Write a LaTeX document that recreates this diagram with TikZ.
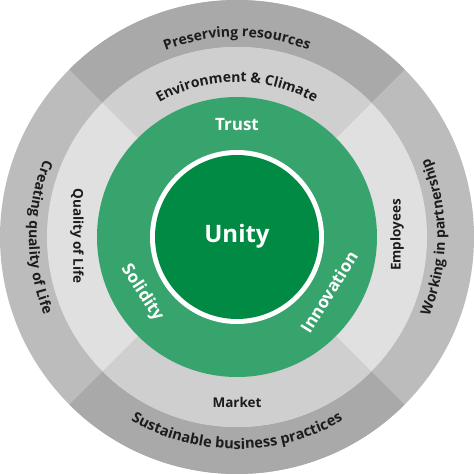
\documentclass[tikz,border=0pt]{standalone}
\usepackage{fontspec}
\setmainfont{Open Sans}
\usetikzlibrary{decorations.text}
\definecolor{outA}{HTML}{A9A9A9}
\definecolor{outB}{HTML}{BCBCBC}
\definecolor{midA}{HTML}{CFCFCF}
\definecolor{midB}{HTML}{E0E0E0}
\definecolor{gring}{HTML}{38A46D}
\definecolor{gcore}{HTML}{008A44}
\definecolor{ink}{HTML}{1C1C1C}
\newcommand{\arcfnt}{\fontsize{14}{16}\selectfont\bfseries}
\newcommand{\arcfntb}{\fontsize{14.6}{16}\selectfont\bfseries}
\begin{document}
\begin{tikzpicture}[x=1pt,y=1pt,
  lbl/.style={font=\fontsize{13.5}{15}\selectfont\bfseries, text=ink, inner sep=0pt},
  glbl/.style={font=\fontsize{17}{19}\selectfont\bfseries, text=white, inner sep=0pt},
  arclbl/.style={decorate, decoration={text along path, text align=center, text color=ink, text={|\arcfnt|#1}}},
  arclblb/.style={decorate, decoration={text along path, text align=center, text color=ink, text={|\arcfntb|#1}}}
]
\useasboundingbox (-237,-237) rectangle (237,237);
% outer ring
\fill[outB] (0,0) circle[radius=237];
\fill[outA] (0,0) -- (45:237) arc[start angle=45, end angle=135, radius=237] -- cycle;
\fill[outA] (0,0) -- (225:237) arc[start angle=225, end angle=315, radius=237] -- cycle;
% middle ring
\fill[midB] (0,0) circle[radius=190];
\fill[midA] (0,0) -- (45:190) arc[start angle=45, end angle=135, radius=190] -- cycle;
\fill[midA] (0,0) -- (225:190) arc[start angle=225, end angle=315, radius=190] -- cycle;
% green
\fill[gring] (0,0) circle[radius=140];
\fill[white] (0,0) circle[radius=87];
\fill[gcore] (0,0) circle[radius=82];
% curved labels
\path[arclbl={Preserving resources}] (150:200) arc[start angle=150, end angle=30, radius=200];
\path[arclbl={Environment {\&} Climate}] (150:155) arc[start angle=150, end angle=30, radius=155];
\path[arclblb={Sustainable business practices}] (210:212) arc[start angle=210, end angle=330, radius=212];
\path[arclbl={Creating quality of Life}] (120:208) arc[start angle=120, end angle=240, radius=208];
\path[arclbl={Working in partnership}] (-60:208) arc[start angle=-60, end angle=60, radius=208];
% straight labels
\node[lbl, rotate=-90] (qol) at (-160,1) {Quality of Life};
\node[lbl, rotate=90] (emp) at (160,2) {Employees};
\node[lbl] (mkt) at (0,-165) {Market};
\node[glbl] (trust) at (0,112) {Trust};
\node[glbl, rotate=-57] (sol) at (-95,-56) {Solidity};
\node[glbl, rotate=58] (inn) at (92,-55) {Innovation};
\node[font=\fontsize{24}{26}\selectfont\bfseries, text=white, inner sep=0pt] (unity) at (0,1) {Unity};
\end{tikzpicture}
\end{document}
